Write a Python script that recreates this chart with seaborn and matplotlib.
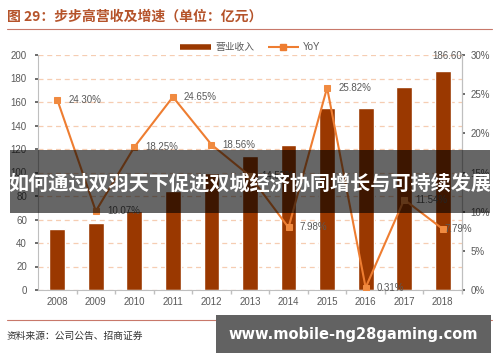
import matplotlib
matplotlib.use("Agg")
import matplotlib.pyplot as plt
from matplotlib.lines import Line2D
from matplotlib.patches import Rectangle
import numpy as np
import seaborn as sns

# ── data ──────────────────────────────────────────────────────────────────────
years = ["2008", "2009", "2010", "2011", "2012", "2013",
         "2014", "2015", "2016", "2017", "2018"]
revenue = [51.7, 56.9, 67.3, 83.9, 99.4, 113.9, 123.0, 154.7, 155.2, 173.1, 186.6]
yoy = [24.30, 10.07, 18.25, 24.65, 18.56, 14.55, 7.98, 25.82, 0.31, 11.54, 7.79]
yoy_labels = ["24.30%", "10.07%", "18.25%", "24.65%", "18.56%", "14.55%",
              "7.98%", "25.82%", "0.31%", "11.54%", "7.79%"]
left_ticks = [0, 20, 40, 60, 80, 100, 120, 140, 160, 180, 200]
right_ticks = [0, 5, 10, 15, 20, 25, 30]

title = "图 29：步步高营收及增速（单位：亿元）"
source = "资料来源：公司公告、招商证券"
banner = "如何通过双羽天下促进双城经济协同增长与可持续发展"
site = "www.mobile-ng28gaming.com"

BAR = "#9A3800"
LINE = "#EE7D31"
GREY = "#595959"
RULE = "#C8786A"

sns.set_theme(style="white")
plt.rcParams["font.family"] = ["Liberation Sans", "Noto Sans CJK SC", "DejaVu Sans"]

W, H = 500, 362
fig = plt.figure(figsize=(W / 100, H / 100), dpi=100)


def fx(px):
    return px / W


def fy(py):
    return 1 - py / H


ax = fig.add_axes([fx(38), fy(290), fx(462) - fx(38), fy(55) - fy(290)])
sns.barplot(x=years, y=revenue, color=BAR, saturation=1, width=0.41, ax=ax)
ax.set_xlim(-0.5, len(years) - 0.5)
ax.set_ylim(0, 200)
ax.set_yticks(left_ticks)
ax.set_xlabel("")
ax.set_ylabel("")
ax.set_axisbelow(True)
ax.yaxis.grid(True, color="#F6CDB2", ls=(0, (4, 3)), lw=0.9)
for s in ["left", "bottom", "right"]:
    ax.spines[s].set_color("#BFBFBF")
    ax.spines[s].set_linewidth(0.8)
ax.spines["top"].set_visible(False)
ax.tick_params(axis="y", labelsize=7, colors=GREY, length=2, pad=6, left=True)
ax.tick_params(axis="x", labelsize=7, colors=GREY, length=0, pad=5)
ax.set_xticks(np.arange(len(years)) + 0.5, minor=True)
ax.tick_params(axis="x", which="minor", bottom=True, length=3, color="#BFBFBF")

ax.annotate(f"{revenue[-1]:.2f}", (len(years) - 1, revenue[-1]),
            xytext=(3, 7), textcoords="offset points",
            ha="center", va="bottom", fontsize=7, color=GREY)

ax2 = ax.twinx()
sns.lineplot(x=np.arange(len(years)), y=yoy, ax=ax2, color=LINE, lw=1.5,
             marker="s", markersize=5, markeredgecolor="#F08A40",
             markerfacecolor="#F08A40")
ax2.set_ylim(0, 30)
ax2.set_yticks(right_ticks)
ax2.set_yticklabels([f"{t}%" for t in right_ticks])
ax2.grid(False)
for s in ["top", "left", "bottom"]:
    ax2.spines[s].set_visible(False)
ax2.spines["right"].set_color("#BFBFBF")
ax2.spines["right"].set_linewidth(0.8)
ax2.tick_params(axis="y", labelsize=7, colors=GREY, length=2, pad=4, right=True)

for i, (v, lab) in enumerate(zip(yoy, yoy_labels)):
    dx = 1.5 if i == len(yoy) - 1 else 8
    ax2.annotate(lab, (i, v), xytext=(dx, 0), textcoords="offset points",
                 ha="left", va="center", fontsize=7, color=GREY)

handles = [Line2D([], [], color=BAR, lw=4, solid_capstyle="butt"),
           Line2D([], [], color=LINE, lw=1.5, marker="s", markersize=4,
                  solid_capstyle="butt")]
fig.legend(handles, ["营业收入", "YoY"], loc="center",
           bbox_to_anchor=(0.5, fy(47)), ncol=2, frameon=False, fontsize=7,
           handlelength=3.2, columnspacing=1.4, handletextpad=0.4,
           labelcolor=GREY)

# header / footer
fig.text(fx(7), fy(17), title, fontsize=10, fontweight="bold", color="#B5532A",
         va="center", ha="left", family=["Noto Sans CJK SC", "DejaVu Sans"])
fig.add_artist(Line2D([fx(7), fx(492)], [fy(29), fy(29)], color=RULE, lw=0.8))
fig.add_artist(Line2D([fx(7), fx(492)], [fy(320), fy(320)], color=RULE, lw=0.8))
fig.text(fx(7), fy(336), source, fontsize=7, color="#333333", va="center",
         ha="left", family=["Noto Sans CJK SC", "DejaVu Sans"])

# overlays
fig.add_artist(Rectangle((fx(10), fy(213)), fx(490) - fx(10), fy(150) - fy(213),
                         transform=fig.transFigure, color="black", alpha=0.6,
                         lw=0, zorder=10))
fig.text(0.5, fy(183), banner, fontsize=14.5, fontweight="bold", color="white",
         ha="center", va="center", zorder=11,
         family=["Noto Sans CJK SC", "DejaVu Sans"])
fig.add_artist(Rectangle((fx(216), fy(353)), fx(491) - fx(216), fy(315) - fy(353),
                         transform=fig.transFigure, color="#626262",
                         lw=0, zorder=10))
fig.text(fx(353), fy(334), site, fontsize=10.5, fontweight="bold", color="white",
         ha="center", va="center", zorder=11, family="DejaVu Sans")

fig.savefig("out.png", dpi=100)
